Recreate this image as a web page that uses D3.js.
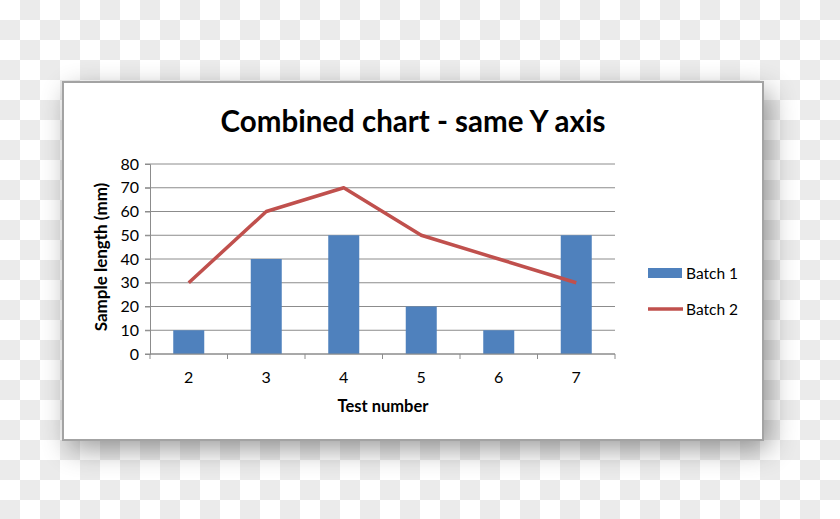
<head>
    <meta charset="utf-8" />
    <script src="https://d3js.org/d3.v7.min.js"></script>
</head>
<style>
    body { margin: 0; background: #fff; }
    text { font-family: Lato, "Noto Sans", sans-serif; fill: #000; }
</style>
<body>
</body>
<script>
// chart values
var testNumbers = ["2", "3", "4", "5", "6", "7"];
var batch1 = [10, 40, 50, 20, 10, 50];
var batch2 = [30, 60, 70, 50, 40, 30];
var yTicks = [0, 10, 20, 30, 40, 50, 60, 70, 80];
var seriesNames = ["Batch 1", "Batch 2"];

var W = 840, H = 519;
var blue = "#4f81bd", red = "#c0504d", grid = "#8c8c8c";

var svg = d3.select("body").append("svg")
    .attr("width", W)
    .attr("height", H);

var defs = svg.append("defs");

// checkerboard backdrop (transparent png look)
var pat = defs.append("pattern")
    .attr("id", "checker")
    .attr("width", 40).attr("height", 40)
    .attr("patternUnits", "userSpaceOnUse");
pat.append("rect").attr("width", 40).attr("height", 40).attr("fill", "#ffffff");
pat.append("rect").attr("x", 20).attr("y", 0).attr("width", 20).attr("height", 20).attr("fill", "#ebebeb");
pat.append("rect").attr("x", 0).attr("y", 20).attr("width", 20).attr("height", 20).attr("fill", "#ebebeb");

var shadow = defs.append("filter")
    .attr("id", "shadow")
    .attr("x", "-20%").attr("y", "-30%")
    .attr("width", "140%").attr("height", "160%");
shadow.append("feGaussianBlur").attr("in", "SourceAlpha").attr("stdDeviation", 14);
shadow.append("feOffset").attr("dx", 6).attr("dy", 9).attr("result", "blur");
shadow.append("feComponentTransfer").append("feFuncA").attr("type", "linear").attr("slope", 0.4);

svg.append("rect").attr("width", W).attr("height", H).attr("fill", "url(#checker)");

// chart frame
var frame = {x: 63, y: 82, w: 700, h: 358};
svg.append("rect")
    .attr("x", frame.x).attr("y", frame.y)
    .attr("width", frame.w).attr("height", frame.h)
    .attr("fill", "#000")
    .attr("filter", "url(#shadow)");
svg.append("rect")
    .attr("x", frame.x).attr("y", frame.y)
    .attr("width", frame.w).attr("height", frame.h)
    .attr("fill", "#fff")
    .attr("stroke", "#a3a3a3")
    .attr("stroke-width", 2);

// plot area
var plotL = 150, plotR = 615, plotT = 164, plotB = 354;

var x = d3.scaleBand()
    .domain(testNumbers)
    .range([plotL, plotR])
    .paddingInner(0.6)
    .paddingOuter(0.3);
var xEdge = d3.scaleBand().domain(testNumbers).range([plotL, plotR]);

var y = d3.scaleLinear()
    .domain([0, 80])
    .range([plotB, plotT]);

// gridlines
svg.append("g")
    .selectAll("line")
    .data(yTicks)
    .enter()
    .append("line")
        .attr("x1", plotL - 5)
        .attr("x2", plotR)
        .attr("y1", function (d) { return y(d); })
        .attr("y2", function (d) { return y(d); })
        .attr("stroke", grid)
        .attr("stroke-width", 1);

// y axis
var yAxis = svg.append("g")
    .attr("transform", `translate(${plotL},0)`)
    .call(d3.axisLeft(y).tickValues(yTicks).tickSize(5).tickPadding(6));
yAxis.select(".domain").attr("stroke", grid);
yAxis.selectAll(".tick line").attr("stroke", grid);
yAxis.selectAll("text")
    .style("font-size", "16px")
    .attr("fill", "#000");

// bars
svg.append("g")
    .selectAll("rect")
    .data(batch1)
    .enter()
    .append("rect")
        .attr("x", function (d, i) { return x(testNumbers[i]); })
        .attr("width", x.bandwidth())
        .attr("y", function (d) { return y(d); })
        .attr("height", function (d) { return y(0) - y(d); })
        .attr("fill", blue);

// x axis
var xAxis = svg.append("g")
    .attr("transform", `translate(0,${plotB})`)
    .call(d3.axisBottom(xEdge).tickSize(0).tickPadding(18));
xAxis.select(".domain").remove();
xAxis.append("line")
    .attr("x1", plotL).attr("x2", plotR)
    .attr("stroke", grid);
xAxis.selectAll(".edge")
    .data(testNumbers.concat(["end"]))
    .enter()
    .append("line")
        .attr("class", "edge")
        .attr("x1", function (d, i) { return plotL + i * xEdge.step(); })
        .attr("x2", function (d, i) { return plotL + i * xEdge.step(); })
        .attr("y1", 0).attr("y2", 5)
        .attr("stroke", grid);
xAxis.selectAll("text")
    .style("font-size", "16px")
    .attr("fill", "#000");

// line series
var line = d3.line()
    .x(function (d, i) { return xEdge(testNumbers[i]) + xEdge.bandwidth() / 2; })
    .y(function (d) { return y(d); });
svg.append("path")
    .datum(batch2)
    .attr("d", line)
    .attr("fill", "none")
    .attr("stroke", red)
    .attr("stroke-width", 3.5)
    .attr("stroke-linejoin", "round");

// titles
svg.append("text")
    .attr("x", 413).attr("y", 132)
    .attr("text-anchor", "middle")
    .style("font-size", "29.5px")
    .style("font-weight", "bold")
    .text("Combined chart - same Y axis");

svg.append("text")
    .attr("x", 383).attr("y", 412)
    .attr("text-anchor", "middle")
    .style("font-size", "16.5px")
    .style("font-weight", "bold")
    .text("Test number");

svg.append("text")
    .attr("transform", "translate(107,257) rotate(-90)")
    .attr("text-anchor", "middle")
    .style("font-size", "17px")
    .style("font-weight", "bold")
    .text("Sample length (mm)");

// legend
var legend = svg.append("g").attr("transform", "translate(648,273)");
legend.append("rect")
    .attr("x", 0).attr("y", -5)
    .attr("width", 34).attr("height", 10)
    .attr("fill", blue);
legend.append("line")
    .attr("x1", 0).attr("x2", 35)
    .attr("y1", 36).attr("y2", 36)
    .attr("stroke", red)
    .attr("stroke-width", 3.5);
legend.selectAll("text")
    .data(seriesNames)
    .enter()
    .append("text")
        .attr("x", 38)
        .attr("y", function (d, i) { return i * 36 + 6; })
        .style("font-size", "15.5px")
        .text(function (d) { return d; });
</script>
